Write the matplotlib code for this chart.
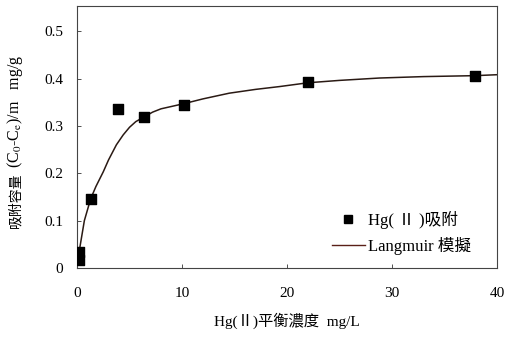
import matplotlib
matplotlib.use("Agg")
import matplotlib.pyplot as plt
from matplotlib.lines import Line2D

plt.rcParams['font.family'] = ['Liberation Serif', 'Noto Sans CJK SC']
plt.rcParams['mathtext.fontset'] = 'stix'

# measured points
conc = [0.15, 0.2, 1.3, 3.9, 6.4, 10.2, 22.0, 37.9]
uptake = [0.017, 0.034, 0.146, 0.335, 0.319, 0.344, 0.392, 0.405]

# Langmuir fit curve
fit_conc = [0.2, 0.7, 1.3, 1.8, 2.5, 3.0, 3.75, 4.4, 5.0, 5.6, 6.4, 7.2, 8.0, 9.0,
            10.2, 12.0, 14.5, 17.0, 19.3, 22.0, 25.0, 28.8, 33.0, 37.9, 40.0]
fit_uptake = [0.034, 0.100, 0.146, 0.172, 0.203, 0.228, 0.260, 0.281, 0.297, 0.309,
              0.319, 0.329, 0.336, 0.341, 0.347, 0.357, 0.369, 0.377, 0.383, 0.391,
              0.396, 0.401, 0.404, 0.406, 0.408]

xticks = [0, 10, 20, 30, 40]
yticks = [0, 0.1, 0.2, 0.3, 0.4, 0.5]
ytick_labels = ['0', '0.1', '0.2', '0.3', '0.4', '0.5']

fig = plt.figure(figsize=(5.11, 3.38), dpi=100)
ax = fig.add_axes([0.1507, 0.2071, 0.8219, 0.7751])

ax.plot(fit_conc, fit_uptake, color='#2a1a14', lw=1.1, zorder=2)
ax.scatter(conc, uptake, marker='s', s=42, color='black', zorder=3)

ax.set_xlim(0, 40)
ax.set_ylim(0, 0.553)
ax.set_xticks(xticks)
ax.set_yticks(yticks)
ax.set_yticklabels(ytick_labels)
ax.tick_params(direction='in', length=3, width=0.6, labelsize=11, colors='#333333',
               labelcolor='black')
ax.tick_params(axis='x', pad=14)
ax.tick_params(axis='y', pad=10)
for s in ax.spines.values():
    s.set_linewidth(0.8)
    s.set_color('#444444')

ax.set_xlabel('Hg(Ⅱ)平衡濃度  mg/L', fontsize=11, labelpad=9)

# y label: CJK part and formula part as separate texts
fig.text(0.030, 0.325, '吸附容量', rotation=90, fontsize=10,
         ha='center', va='bottom')
fig.text(0.030, 0.503, r'(C$_0$-C$_\mathrm{e}$)/m   mg/g', rotation=90, fontsize=11.5,
         ha='center', va='bottom')

handles = [Line2D([], [], marker='s', ls='none', color='black', markersize=5.5),
           Line2D([], [], color='#5a2018', lw=1.0)]
ax.legend(handles, ['Hg( Ⅱ )吸附', 'Langmuir 模擬'], loc='lower right',
          bbox_to_anchor=(0.975, -0.006), frameon=False, fontsize=12,
          handlelength=2.0, handletextpad=0.2, labelspacing=0.45)

fig.savefig('out.png', dpi=100)
